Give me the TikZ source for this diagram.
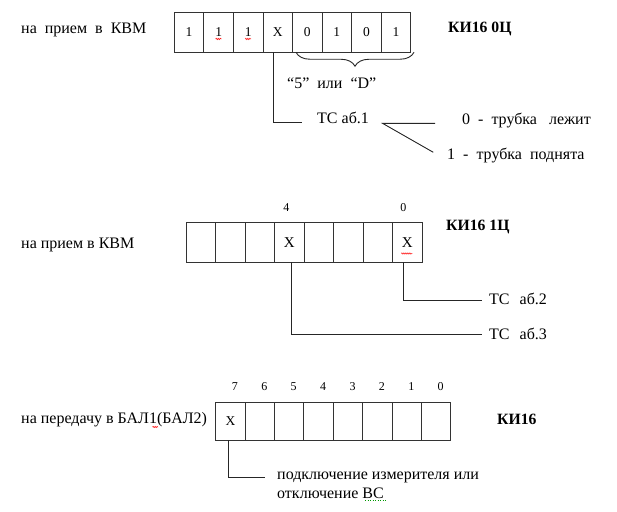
\documentclass[tikz,border=0pt]{standalone}
\usepackage{fontspec}
\setmainfont{Liberation Serif}
\usetikzlibrary{decorations.pathreplacing,decorations.pathmorphing,calc}
\begin{document}
\begin{tikzpicture}[x=1pt,y=-1pt,
  cell/.style={draw=black!80, line width=0.9pt, minimum width=29.5pt, minimum height=39.5pt, inner sep=0pt, outer sep=0pt, font=\fontsize{13.5}{15}\selectfont},
  lbl/.style={anchor=west, inner sep=0pt, font=\fontsize{16}{18.5}\selectfont},
  boldlbl/.style={anchor=west, inner sep=0pt, font=\fontsize{15.7}{18}\selectfont\bfseries},
  bitnum/.style={inner sep=0pt, font=\fontsize{12}{14}\selectfont},
  wire/.style={line width=0.9pt, draw=black!85},
  spell/.style={draw=red, line width=0.5pt, decorate, decoration={snake, segment length=2pt, amplitude=0.7pt}},
  spellg/.style={draw=green!60!black, line width=0.5pt, dotted}]
\useasboundingbox (0,0) rectangle (617,511);

% ---------- register KI16 0C ----------
\node[lbl] (t1) at (21,30) {на\ \ прием\ \ в\ \ КВМ};
\foreach \t [count=\i] in {1,1,1,X,0,1,0,1}
  \node[cell, minimum width=29.55pt] (a\i) at ({174.3+29.55*(\i-0.5)},32.5) {\t};
\node[boldlbl] (k1) at (448,29) {КИ16 0Ц};
\draw[wire, decorate, decoration={brace, mirror, amplitude=14pt}]
  ($(a5.south west)+(3.5,0)$) -- ($(a8.south east)+(3.3,0)$);
\node[lbl] (q) at (287,83) {“5”\ \ или\ \ “D”};
\node[lbl] (tc1) at (317,118) {ТС аб.1};
\coordinate (c1) at (301.7,122.7);
\draw[wire] ($(a4.south)+(-4,0)$) |- (c1);
\coordinate (f) at (382.5,123.3);
\coordinate (e0) at (435,123.3);
\coordinate (e1) at (433.3,152.3);
\draw[wire] (e0) -- (f) -- (e1);
\node[lbl] (s0) at (462,120) {0\ \ -\ \ трубка\ \ \ лежит};
\node[lbl] (s1) at (447,155) {1\ \ -\ \ трубка\ \ поднята};
\draw[spell] ($(a2.center)+(-3,6.5)$) -- ($(a2.center)+(3,6.5)$);
\draw[spell] ($(a3.center)+(-3,6.5)$) -- ($(a3.center)+(3,6.5)$);

% ---------- register KI16 1C ----------
\node[lbl] (t2) at (21,245) {на прием в КВМ};
\foreach \t [count=\i] in {{},{},{},X,{},{},{},X}
  \node[cell, font=\fontsize{15}{17}\selectfont] (b\i) at ({186+29.5*(\i-0.5)},242.5) {\t};
\node[boldlbl] (k2) at (446,227) {КИ16 1Ц};
\node[bitnum] (n4) at ($(b4.north)+(-3,-15)$) {4};
\node[bitnum] (n0) at ($(b8.north)+(-4,-15)$) {0};
\node[lbl] (tc2) at (489,299) {ТС\hspace{10pt}аб.2};
\node[lbl] (tc3) at (489,334) {ТС\hspace{10pt}аб.3};
\draw[wire] ($(b8.south)+(-4,0)$) |- ($(tc2.west)+(-7,1)$);
\draw[wire] ($(b4.south)+(2.5,0)$) |- ($(tc3.west)+(-7,0)$);
\draw[spell] ($(b8.center)+(-6,11)$) -- ($(b8.center)+(5,11)$);

% ---------- register KI16 ----------
\node[lbl] (t3) at (21,420) {на передачу в БАЛ1(БАЛ2)};
\foreach \t [count=\i] in {X,{},{},{},{},{},{},{}}
  \node[cell, minimum width=29.4pt, minimum height=38pt] (r\i) at ({215.7+29.4*(\i-0.5)},421) {\t};
\foreach \n [count=\i] in {7,6,5,4,3,2,1,0}
  \node[bitnum] (m\i) at ($(r\i.north)+(4.5,-15)$) {\n};
\node[boldlbl] (k3) at (497,419) {КИ16};
\node[lbl, anchor=north west, align=left] (note) at (277,472) {подключение измерителя или\\отключение ВС};
\coordinate (n1) at (265,477);
\draw[wire] ($(r1.south)+(-1.5,0)$) |- (n1);
\draw[spell] (152.5,427) -- (158,427);
\draw[spellg] (365,500) -- (386,500);
\end{tikzpicture}
\end{document}
